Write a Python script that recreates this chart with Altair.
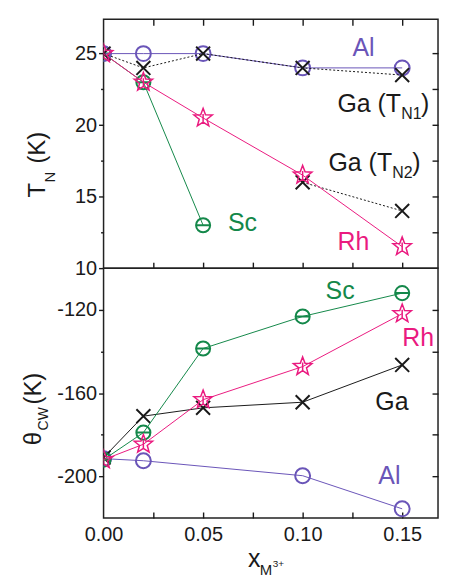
import math
import altair as alt
import pandas as pd

# ---------------- data ----------------
x_tn = [0.0, 0.02, 0.05, 0.10, 0.15]
tn_al = [25, 25, 25, 24, 24]
tn_ga1 = [25, 24, 25, 24, 23.5]
x_ga2 = [0.10, 0.15]
tn_ga2 = [16, 14]
x_sc_tn = [0.0, 0.02, 0.05]
tn_sc = [25, 23, 13]
tn_rh = [25, 23, 20.5, 16.5, 11.5]

x_cw = [0.0, 0.02, 0.05, 0.10, 0.15]
x_al_cw = [0.0, 0.02, 0.10, 0.15]
cw_al = [-191.5, -192.5, -199.7, -215.6]
cw_sc = [-192, -179, -138.6, -123.2, -112]
cw_rh = [-192, -184.6, -163.2, -147.3, -121.9]
cw_ga = [-191, -171.1, -167.1, -164.4, -146.5]

x_label_ticks = [0.0, 0.05, 0.10, 0.15]
x_minor_ticks = [0.025, 0.05, 0.075, 0.10, 0.125, 0.15]
tn_major = [10, 15, 20, 25]
tn_minor = [12.5, 17.5, 22.5]
tn_right = [12.5, 15, 17.5, 20, 22.5, 25]
cw_major = [-200, -160, -120]
cw_minor = [-180, -140]
cw_right = [-200, -180, -160, -140, -120]

# ---------------- styling ----------------
PURPLE = "#6a55b8"
GREEN = "#14884a"
MAGENTA = "#ea1a7f"
BLACK = "#1a1a1a"
FONT = "Liberation Sans"

W = 336
H_TOP = 250
H_BOT = 251
X_DOM = [0, 0.168]
TN_DOM = [10, 27.4]
CW_DOM = [-220, -100]

XS = alt.Scale(domain=X_DOM, nice=False, zero=False)
TNS = alt.Scale(domain=TN_DOM, nice=False, zero=False)
CWS = alt.Scale(domain=CW_DOM, nice=False, zero=False)

CROSS = "M-1,-1L1,1M-1,1L1,-1"
THETA = "M-1,0A1,1,0,1,0,1,0A1,1,0,1,0,-1,0ZM-1,0L1,0"


def star_path():
    pts = []
    for k in range(10):
        r = 1.0 if k % 2 == 0 else 0.42
        a = math.radians(-90 + 36 * k)
        pts.append((r * math.cos(a), r * math.sin(a)))
    d = "M" + "L".join(f"{px:.3f},{py:.3f}" for px, py in pts) + "Z"
    d += "M0,-0.42L0,0.5"
    return d


STAR = star_path()


def series(xs, ys, yscale, color, shape, size, dash=None, sw=2.0, line=True):
    df = pd.DataFrame({"x": xs, "y": ys})
    base = alt.Chart(df).encode(
        x=alt.X("x:Q", scale=XS, axis=None),
        y=alt.Y("y:Q", scale=yscale, axis=None),
    )
    layers = []
    if line:
        kw = dict(color=color, strokeWidth=1.0, clip=True)
        if dash:
            kw["strokeDash"] = dash
        layers.append(base.mark_line(**kw))
    layers.append(
        base.mark_point(shape=shape, size=size, filled=False, stroke=color,
                        strokeWidth=sw, opacity=1, clip=True)
    )
    return layers


def label(text, x, y, yscale, color, size=25, dx=0, dy=0):
    df = pd.DataFrame({"x": [x], "y": [y], "t": [text]})
    return alt.Chart(df).mark_text(
        align="left", baseline="alphabetic", font=FONT, fontSize=size,
        color=color, dx=dx, dy=dy
    ).encode(
        x=alt.X("x:Q", scale=XS, axis=None),
        y=alt.Y("y:Q", scale=yscale, axis=None),
        text="t:N",
    )


def ptext(text, px, py, size, angle=0, color=BLACK):
    df = pd.DataFrame({"t": [text]})
    return alt.Chart(df).mark_text(
        align="left", baseline="alphabetic", font=FONT, fontSize=size,
        angle=angle, color=color
    ).encode(x=alt.value(px), y=alt.value(py), text="t:N")


def axis_layer(yscale, ydom, xaxis, yaxis):
    df = pd.DataFrame({"x": X_DOM, "y": ydom})
    return alt.Chart(df).mark_point(opacity=0).encode(
        x=alt.X("x:Q", scale=XS, axis=xaxis),
        y=alt.Y("y:Q", scale=yscale, axis=yaxis),
    )


common = dict(domain=False, grid=False, title=None, tickColor=BLACK,
              tickWidth=1.4, labelFont=FONT, labelFontSize=20,
              labelColor=BLACK, labelFlush=False)

HYPHEN = "'' + datum.value"


def inward(orient, values):
    return alt.Axis(orient=orient, values=values, ticks=True, tickSize=6,
                    offset=-6, labels=False, **common)


# ---------------- top panel: T_N ----------------
top_layers = []
top_layers.append(axis_layer(
    TNS, TN_DOM, inward("bottom", x_minor_ticks),
    alt.Axis(orient="left", values=tn_major, tickSize=5, labelPadding=2,
             **common)))
top_layers.append(axis_layer(
    TNS, TN_DOM, inward("top", x_minor_ticks),
    alt.Axis(orient="left", values=tn_minor, tickSize=3, labels=False,
             **common)))
top_layers.append(axis_layer(TNS, TN_DOM, None, inward("right", tn_right)))

top_layers += series(x_sc_tn, tn_sc, TNS, GREEN, THETA, 200)
top_layers += series(x_tn, tn_al, TNS, PURPLE, "circle", 225)
top_layers += series(x_tn, tn_ga1, TNS, BLACK, CROSS, 196, dash=[2, 2])
top_layers += series(x_ga2, tn_ga2, TNS, BLACK, CROSS, 196, dash=[2, 2])
top_layers += series(x_tn, tn_rh, TNS, MAGENTA, STAR, 380, sw=1.5)

top_layers += [
    label("Al", 0.125, 24.8, TNS, PURPLE),
    label("Ga (T", 0.1175, 20.9, TNS, BLACK),
    label("N1", 0.1175, 20.9, TNS, BLACK, size=16, dx=64, dy=7),
    label(")", 0.1175, 20.9, TNS, BLACK, dx=84),
    label("Ga (T", 0.113, 16.8, TNS, BLACK),
    label("N2", 0.113, 16.8, TNS, BLACK, size=16, dx=64, dy=7),
    label(")", 0.113, 16.8, TNS, BLACK, dx=84),
    label("Sc", 0.0625, 12.57, TNS, GREEN),
    label("Rh", 0.1175, 11.25, TNS, MAGENTA),
    ptext("T", -59, 179, 24, angle=270),
    ptext("N", -49, 164, 15, angle=270),
    ptext("(K)", -59, 145, 24, angle=270),
]

top = alt.layer(*top_layers).resolve_axis(x="independent", y="independent") \
    .properties(width=W, height=H_TOP)

# ---------------- bottom panel: theta_CW ----------------
bot_layers = []
bot_layers.append(axis_layer(
    CWS, CW_DOM,
    alt.Axis(orient="bottom", values=x_label_ticks, ticks=False, tickSize=0,
             labelPadding=7, format=".2f", **common),
    alt.Axis(orient="left", values=cw_major, tickSize=5, labelPadding=2,
             labelExpr=HYPHEN, **common)))
bot_layers.append(axis_layer(
    CWS, CW_DOM, inward("bottom", x_minor_ticks),
    alt.Axis(orient="left", values=cw_minor, tickSize=3, labels=False,
             **common)))
bot_layers.append(axis_layer(CWS, CW_DOM, None, inward("right", cw_right)))

bot_layers += series(x_al_cw, cw_al, CWS, PURPLE, "circle", 225)
bot_layers += series(x_cw, cw_ga, CWS, BLACK, CROSS, 196)
bot_layers += series(x_cw, cw_sc, CWS, GREEN, THETA, 200)
bot_layers += series(x_cw, cw_rh, CWS, MAGENTA, STAR, 380, sw=1.5)

bot_layers += [
    label("Sc", 0.1115, -114.8, CWS, GREEN),
    label("Rh", 0.15, -137.6, CWS, MAGENTA),
    label("Ga", 0.1365, -168.1, CWS, BLACK),
    label("Al", 0.138, -203.8, CWS, PURPLE),
    ptext("\u03b8", -63, 178, 24, angle=270),
    ptext("CW", -56, 163, 14, angle=270),
    ptext("(K)", -63, 137, 24, angle=270),
    ptext("x", 145, 300, 25),
    ptext("M", 157, 308, 15),
    ptext("3+", 170, 300, 10),
]

bot = alt.layer(*bot_layers).resolve_axis(x="independent", y="independent") \
    .properties(width=W, height=H_BOT)

chart = alt.vconcat(
    top, bot, spacing=0, bounds="flush",
    padding={"left": 13, "top": 6, "right": 0, "bottom": 4},
).configure_view(stroke="#222222", strokeWidth=1.5)

chart.save("out.html", embed_options={"renderer": "svg", "actions": False})
